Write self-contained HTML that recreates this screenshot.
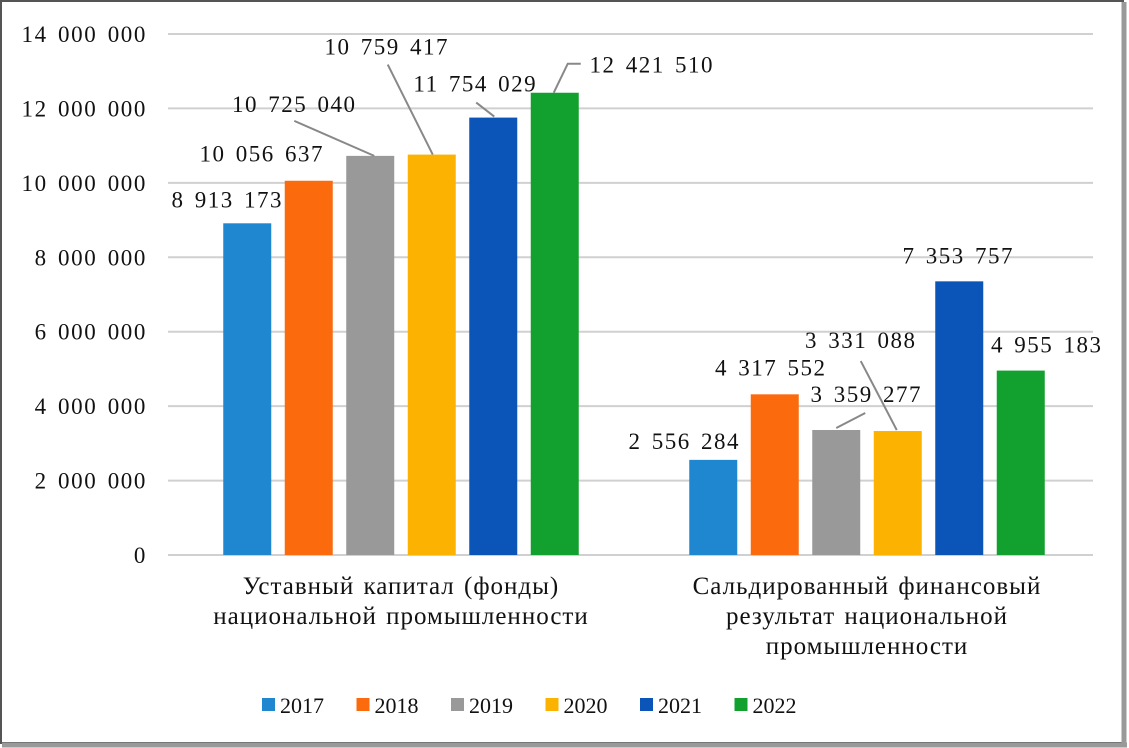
<!DOCTYPE html>
<html><head><meta charset="utf-8"><style>
html,body{margin:0;padding:0;background:#fff;}
svg{display:block;font-family:"Liberation Serif",serif;}
.n{font-size:23px;letter-spacing:1.5px;word-spacing:3px;}
.t{font-size:23px;letter-spacing:1.6px;word-spacing:3px;}
.c{font-size:25px;letter-spacing:1px;word-spacing:2px;}
</style></head><body>
<svg id="c" width="1129" height="748" viewBox="0 0 1129 748">
<rect x="1" y="1" width="1122" height="742" fill="#fff" stroke="#555" stroke-width="2"/>
<line x1="1124" y1="2" x2="1124" y2="745" stroke="#999" stroke-width="5"/>
<line x1="2" y1="745" x2="1127" y2="745" stroke="#999" stroke-width="5"/>
<g id="grid"></g><g id="bars"></g><g id="labels"></g><g id="legend"></g>
</svg>
<script>
const categories=["Уставный капитал (фонды)|национальной промышленности","Сальдированный финансовый|результат национальной|промышленности"];
const years=["2017","2018","2019","2020","2021","2022"];
const colors=["#1f87d0","#fb6b0e","#999999","#fbb200","#0b55b8","#12a02f"];
const values2017=[8913173,2556284];
const values2018=[10056637,4317552];
const values2019=[10725040,3359277];
const values2020=[10759417,3331088];
const values2021=[11754029,7353757];
const values2022=[12421510,4955183];
const series=[values2017,values2018,values2019,values2020,values2021,values2022];
const ticks=[0,2000000,4000000,6000000,8000000,10000000,12000000,14000000];
const NS="http://www.w3.org/2000/svg";
const x0=168,x1=1093,xc=1100,y0=555,yTop=34,yMax=14000000;
const y=v=>y0-(v/yMax)*(y0-yTop);
const catW=(xc-x0)/categories.length;
const step=61.5,bw=48;
const barX=(c,s)=>x0+catW*c+catW/2+(s-2.5)*step-bw/2;
const fmt=v=>String(v).replace(/\B(?=(\d{3})+(?!\d))/g," ");
function mk(t,a,p){const e=document.createElementNS(NS,t);for(const k in a)e.setAttribute(k,a[k]);p.appendChild(e);return e;}
const G=document.getElementById('grid'),B=document.getElementById('bars'),L=document.getElementById('labels'),LG=document.getElementById('legend');
ticks.forEach(t=>{
 const l=mk('line',{x1:x0,x2:x1,y1:y(t),y2:y(t),stroke:'#d0d0d0','stroke-width':2},G);
 
 
 const tx=mk('text',{x:147,y:y(t)+8,'text-anchor':'end','class':'t',fill:'#111'},G);
 tx.textContent=fmt(t);
 
 
});
categories.forEach((c,ci)=>{
 const lines=c.split('|');
 lines.forEach((ln,i)=>{
  const t=mk('text',{x:x0+catW*ci+catW/2,y:594+i*30,'text-anchor':'middle','class':'c',fill:'#111'},G);
  t.textContent=ln;
  
  
 });
});
const lab={"0,0":[-20,-16],"0,1":[-47,-19],"0,2":[-76,-44,[[-76,-35],[4,0]]],"0,3":[-45,-100,[[-44,-90],[1,0]]],"0,4":[-18,-26,[[-17,-15],[1,-1]]],"0,5":[97,-20,[[-1,0],[13,-29],[26,-29]]],
"1,0":[-29,-11],"1,1":[-4,-19],"1,2":[30,-28,[[29,-17],[0,-2]]],"1,3":[-37,-83,[[-37,-70],[-1,-1]]],"1,4":[-1,-18],"1,5":[26,-18]};
series.forEach((vals,si)=>{
 vals.forEach((v,ci)=>{
  const bx=barX(ci,si),by=y(v);
  const r=mk('rect',{x:bx,y:by,width:bw,height:y0-by,fill:colors[si]},B);
  
  
  const cx=bx+bw/2,o=lab[ci+','+si];
  if(o[2]){const pts=o[2].map(p=>(cx+p[0])+','+(by+p[1])).join(' ');
   const pl=mk('polyline',{points:pts,fill:'none',stroke:'#888','stroke-width':2},L);
   
   }
  const t=mk('text',{x:cx+o[0],y:by+o[1],'text-anchor':'middle','class':'n',fill:'#111'},L);
  t.textContent=fmt(v);
  
  
 });
});
years.forEach((yr,i)=>{
 const lx=262+i*94.5;
 const r=mk('rect',{x:lx,y:698,width:13,height:13,fill:colors[i]},LG);
 
 
 const t=mk('text',{x:lx+18,y:713,'font-size':22,fill:'#111'},LG);
 t.textContent=yr;
 
 
});
</script>
</body></html>
